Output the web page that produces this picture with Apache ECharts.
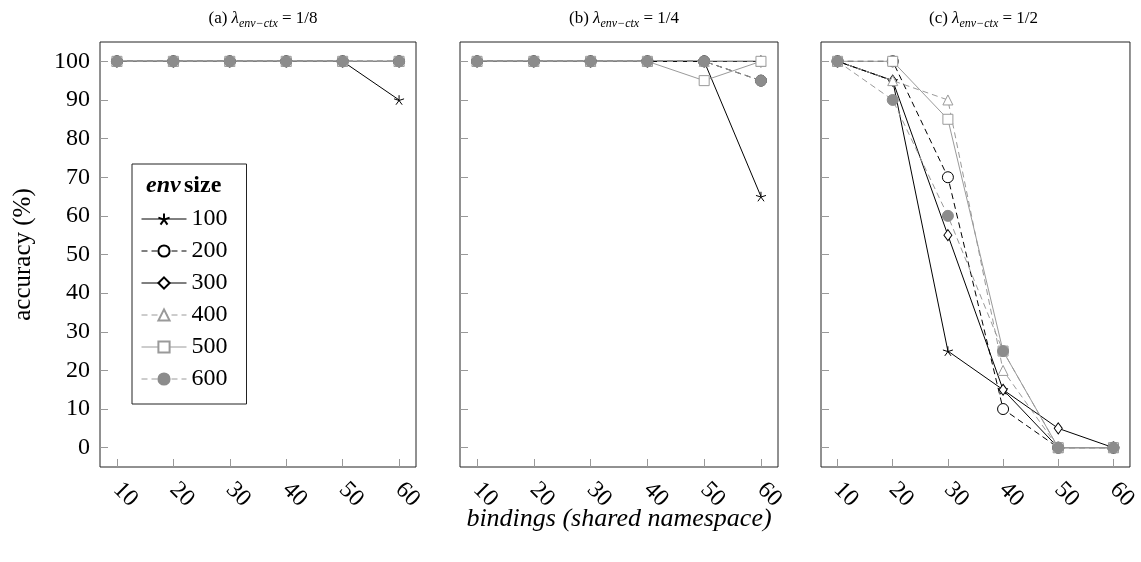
<!DOCTYPE html>
<html>
<head>
<meta charset="utf-8">
<script src="https://cdn.jsdelivr.net/npm/echarts@6/dist/echarts.min.js"></script>
<style>html,body{margin:0;padding:0;background:#fff;}#c{width:1141px;height:562px;}</style>
</head>
<body>
<div id="c"></div>
<script>
// ---- data ----
const xValues = [10, 20, 30, 40, 50, 60];
const yTicks = [0, 10, 20, 30, 40, 50, 60, 70, 80, 90, 100];
const seriesNames = ['100', '200', '300', '400', '500', '600'];
const panelTitles = ['(a)', '(b)', '(c)'];
const panelRatios = ['1/8', '1/4', '1/2'];

// panel (a) lambda = 1/8
const a100 = [100, 100, 100, 100, 100, 90];
const a200 = [100, 100, 100, 100, 100, 100];
const a300 = [100, 100, 100, 100, 100, 100];
const a400 = [100, 100, 100, 100, 100, 100];
const a500 = [100, 100, 100, 100, 100, 100];
const a600 = [100, 100, 100, 100, 100, 100];
// panel (b) lambda = 1/4
const b100 = [100, 100, 100, 100, 100, 65];
const b200 = [100, 100, 100, 100, 100, 95];
const b300 = [100, 100, 100, 100, 100, 100];
const b400 = [100, 100, 100, 100, 100, 100];
const b500 = [100, 100, 100, 100, 95, 100];
const b600 = [100, 100, 100, 100, 100, 95];
// panel (c) lambda = 1/2
const c100 = [100, 95, 25, 15, 0, 0];
const c200 = [100, 100, 70, 10, 0, 0];
const c300 = [100, 95, 55, 15, 5, 0];
const c400 = [100, 95, 90, 20, 0, 0];
const c500 = [100, 100, 85, 25, 0, 0];
const c600 = [100, 90, 60, 25, 0, 0];

const panels = [
  [a100, a200, a300, a400, a500, a600],
  [b100, b200, b300, b400, b500, b600],
  [c100, c200, c300, c400, c500, c600]
];

// ---- styles ----
const FONT = 'Liberation Serif';
const GRAY = '#8c8c8c';
const LGRAY = '#9a9a9a';
const starPath = 'path://M0,0L0,-5M0,0L4.755,-1.545M0,0L2.939,4.045M0,0L-2.939,4.045M0,0L-4.755,-1.545';
const styles = [
  { color: '#000', line: 'solid', symbol: starPath, size: 10, fill: 'none', border: '#000' },
  { color: '#000', line: [6, 4], symbol: 'circle', size: 11, fill: '#fff', border: '#000' },
  { color: '#000', line: 'solid', symbol: 'diamond', size: [8, 11], fill: '#fff', border: '#000' },
  { color: LGRAY, line: [6, 4], symbol: 'triangle', size: 10, fill: '#fff', border: LGRAY },
  { color: LGRAY, line: 'solid', symbol: 'rect', size: 10, fill: '#fff', border: LGRAY },
  { color: LGRAY, line: [6, 4], symbol: 'circle', size: 11, fill: GRAY, border: GRAY }
];

const grids = [
  { left: 100, top: 42, width: 316, height: 425 },
  { left: 460, top: 42, width: 318, height: 425 },
  { left: 821, top: 42, width: 315, height: 425 }
];

const xAxes = [], yAxes = [], series = [], titles = [];
grids.forEach((g, i) => {
  g.show = true; g.borderColor = '#222'; g.borderWidth = 1; g.backgroundColor = 'transparent';
  xAxes.push({
    type: 'value', gridIndex: i, min: 7, max: 63,
    axisLine: { show: false, onZero: false },
    splitLine: { show: false },
    axisTick: { show: true, inside: true, length: 8, lineStyle: { color: '#999' }, customValues: xValues },
    axisLabel: { show: true, rotate: -45, margin: 19, fontFamily: FONT, fontSize: 24, color: '#000', customValues: xValues },
    name: i === 1 ? 'bindings (shared namespace)' : '',
    nameLocation: 'middle', nameGap: 39, nameMoveOverlap: false,
    nameTextStyle: { fontFamily: FONT, fontSize: 26, fontStyle: 'italic', color: '#000' }
  });
  yAxes.push({
    type: 'value', gridIndex: i, min: -5, max: 105,
    axisLine: { show: false, onZero: false },
    splitLine: { show: false },
    axisTick: { show: true, inside: true, length: 8, lineStyle: { color: '#999' }, customValues: yTicks },
    axisLabel: { show: i === 0, margin: 10, fontFamily: FONT, fontSize: 24, color: '#000', customValues: yTicks },
    name: i === 0 ? 'accuracy (%)' : '',
    nameLocation: 'middle', nameGap: 64, nameMoveOverlap: false,
    nameTextStyle: { fontFamily: FONT, fontSize: 25, color: '#000' }
  });
  titles.push({
    left: g.left + g.width / 2, top: 0, textAlign: 'center',
    text: '{a|' + panelTitles[i] + ' }{l|λ}{s|env−ctx}{a| = ' + panelRatios[i] + '}',
    textStyle: {
      fontWeight: 'normal',
      rich: {
        a: { fontFamily: FONT, fontSize: 17, fontWeight: 'normal', color: '#000', verticalAlign: 'bottom', lineHeight: 22 },
        l: { fontFamily: FONT, fontSize: 17, fontWeight: 'normal', fontStyle: 'italic', color: '#000', verticalAlign: 'bottom', lineHeight: 22 },
        s: { fontFamily: FONT, fontSize: 12, fontWeight: 'normal', fontStyle: 'italic', color: '#000', verticalAlign: 'bottom', lineHeight: 22, padding: [0, 0, -3, 0] }
      }
    }
  });
  panels[i].forEach((vals, k) => {
    const st = styles[k];
    series.push({
      type: 'line', name: seriesNames[k], xAxisIndex: i, yAxisIndex: i,
      data: xValues.map((x, j) => [x, vals[j]]),
      symbol: st.symbol, symbolSize: st.size, symbolKeepAspect: true,
      lineStyle: { color: st.color, width: 1, type: st.line },
      itemStyle: { color: st.fill, borderColor: st.border, borderWidth: 1 },
      z: 2 + k
    });
  });
});

const chart = echarts.init(document.getElementById('c'), null, { renderer: 'canvas' });
chart.setOption({
  animation: false,
  backgroundColor: '#fff',
  title: titles,
  grid: grids,
  xAxis: xAxes,
  yAxis: yAxes,
  legend: {
    data: seriesNames,
    orient: 'vertical',
    left: 132, top: 164,
    padding: [43, 19, 13, 9],
    itemGap: 8,
    itemWidth: 45, itemHeight: 14,
    backgroundColor: '#fff',
    borderColor: '#222', borderWidth: 1,
    lineStyle: { width: 1 },
    textStyle: { fontFamily: FONT, fontSize: 24, color: '#000', lineHeight: 24 },
    selectedMode: false
  },
  graphic: [{
    type: 'text', left: 146, top: 174, z: 100,
    style: {
      text: '{i|env} {b|size}',
      rich: {
        i: { fontFamily: FONT, fontSize: 24, fontWeight: 'bold', fontStyle: 'italic', fill: '#000' },
        b: { fontFamily: FONT, fontSize: 24, fontWeight: 'bold', fill: '#000' }
      }
    }
  }],
  series: series
});
</script>
</body>
</html>
